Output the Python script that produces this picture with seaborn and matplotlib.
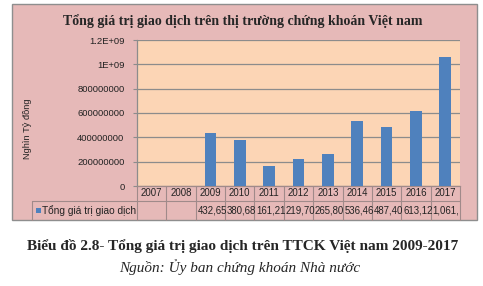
import matplotlib
matplotlib.use("Agg")
import matplotlib.pyplot as plt
from matplotlib.patches import Rectangle
from matplotlib.lines import Line2D
import seaborn as sns
import pandas as pd

# ---- data ----
years = ["2007", "2008", "2009", "2010", "2011", "2012", "2013", "2014", "2015", "2016", "2017"]
values = [0, 0, 432650000, 380680000, 161210000, 219700000, 265800000,
          536460000, 487400000, 613120000, 1061000000]
cell_labels = ["", "", "432,65", "380,68", "161,21", "219,70", "265,80",
               "536,46", "487,40", "613,12", "1,061,"]
series_name = "Tổng giá trị giao dịch"
yticks = [0, 200000000, 400000000, 600000000, 800000000, 1000000000, 1200000000]
ytick_labels = ["0", "200000000", "400000000", "600000000", "800000000", "1E+09", "1.2E+09"]
title = "Tổng giá trị giao dịch trên thị trường chứng khoán Việt nam"
ylabel = "Nghìn Tỷ đồng"
caption = "Biểu đồ 2.8- Tổng giá trị giao dịch trên TTCK Việt nam 2009-2017"
source = "Nguồn: Ủy ban chứng khoán Nhà nước"

df = pd.DataFrame({"year": years, "value": values})

sns.set_theme(style="white")
plt.rcParams["font.family"] = ["Liberation Sans", "DejaVu Sans"]

W, H = 483, 286
fig = plt.figure(figsize=(W / 100, H / 100), dpi=100)
fig.patch.set_facecolor("white")

def fx(px):
    return px / W

def fy(py):
    return 1 - py / H

PINK = "#E6B9B8"
PEACH = "#FCD5B5"
BLUE = "#4F81BD"
GRID = "#8C8C8C"
TLINE = "#A08A8A"
TXT = "#222222"

# outer chart frame
fig.patches.append(Rectangle((fx(12), fy(220)), fx(477) - fx(12), fy(4) - fy(220),
                             transform=fig.transFigure, facecolor=PINK,
                             edgecolor="#8E8E8E", linewidth=1.0, zorder=0))

L, R, T, B = 137, 460, 40, 186
ax = fig.add_axes([fx(L), fy(B), fx(R) - fx(L), fy(T) - fy(B)])
ax.set_facecolor(PEACH)
ax.set_zorder(2)

sns.barplot(data=df, x="year", y="value", color=BLUE, width=0.4,
            saturation=1, linewidth=0, edgecolor=BLUE, ax=ax, zorder=3)

ax.set_ylim(0, 1200000000)
ax.set_xlim(-0.5, len(years) - 0.5)
ax.set_yticks(yticks)
ax.set_yticklabels(ytick_labels, fontsize=6.8, color=TXT)
ax.tick_params(axis="y", length=3, width=0.8, color=GRID, pad=6, left=True)
ax.set_xticks([])
ax.set_xlabel("")
ax.set_ylabel("")
ax.yaxis.grid(True, color=GRID, linewidth=0.9)
ax.set_axisbelow(True)
for s in ["top", "right"]:
    ax.spines[s].set_visible(False)
ax.spines["left"].set_color(GRID)
ax.spines["left"].set_linewidth(0.9)
ax.spines["bottom"].set_color(TLINE)
ax.spines["bottom"].set_linewidth(0.9)

# data table beneath the plot
tr = ax.get_xaxis_transform()
plot_h = B - T
row1 = -(201 - B) / plot_h
row2 = -(220 - B) / plot_h
n = len(years)
for i in range(n + 1):
    ax.add_line(Line2D([i - 0.5, i - 0.5], [0, row2], transform=tr, color=TLINE,
                       linewidth=0.8, clip_on=False))
ax.add_line(Line2D([-0.5, n - 0.5], [row1, row1], transform=tr, color=TLINE,
                   linewidth=0.8, clip_on=False))
for i, (yr, lab) in enumerate(zip(years, cell_labels)):
    ax.text(i, row1 / 2, yr, transform=tr, ha="center", va="center",
            fontsize=6.9, color=TXT, clip_on=False)
    if lab:
        ax.text(i - 0.44, (row1 + row2) / 2, lab, transform=tr, ha="left",
                va="center", fontsize=6.9, color=TXT, clip_on=False)

# legend cell of the table
fig.add_artist(Line2D([fx(32), fx(L)], [fy(201), fy(201)], transform=fig.transFigure,
                      color=TLINE, linewidth=0.8))
fig.add_artist(Line2D([fx(32), fx(32)], [fy(201), fy(220)], transform=fig.transFigure,
                      color=TLINE, linewidth=0.8))
fig.patches.append(Rectangle((fx(36), fy(213)), fx(5), fy(208) - fy(213),
                             transform=fig.transFigure, facecolor=BLUE,
                             edgecolor="none", zorder=3))
fig.text(fx(42), fy(210.5), series_name, ha="left", va="center", fontsize=7.3,
         color=TXT)

# y label
fig.text(fx(28), fy(129), ylabel, rotation=90, ha="center", va="center",
         fontsize=6.7, color=TXT)

# title
fig.text(fx(243), fy(21), title, ha="center", va="center", fontsize=10,
         fontweight="bold", family=["Liberation Serif", "DejaVu Serif"])

# caption and source
fig.text(fx(243), fy(246), caption, ha="center", va="center", fontsize=11,
         fontweight="bold", family=["Liberation Serif", "DejaVu Serif"])
fig.text(fx(240), fy(267), source, ha="center", va="center", fontsize=11,
         fontstyle="italic", family=["Liberation Serif", "DejaVu Serif"])

fig.savefig("out.png", dpi=100, facecolor=fig.get_facecolor())
